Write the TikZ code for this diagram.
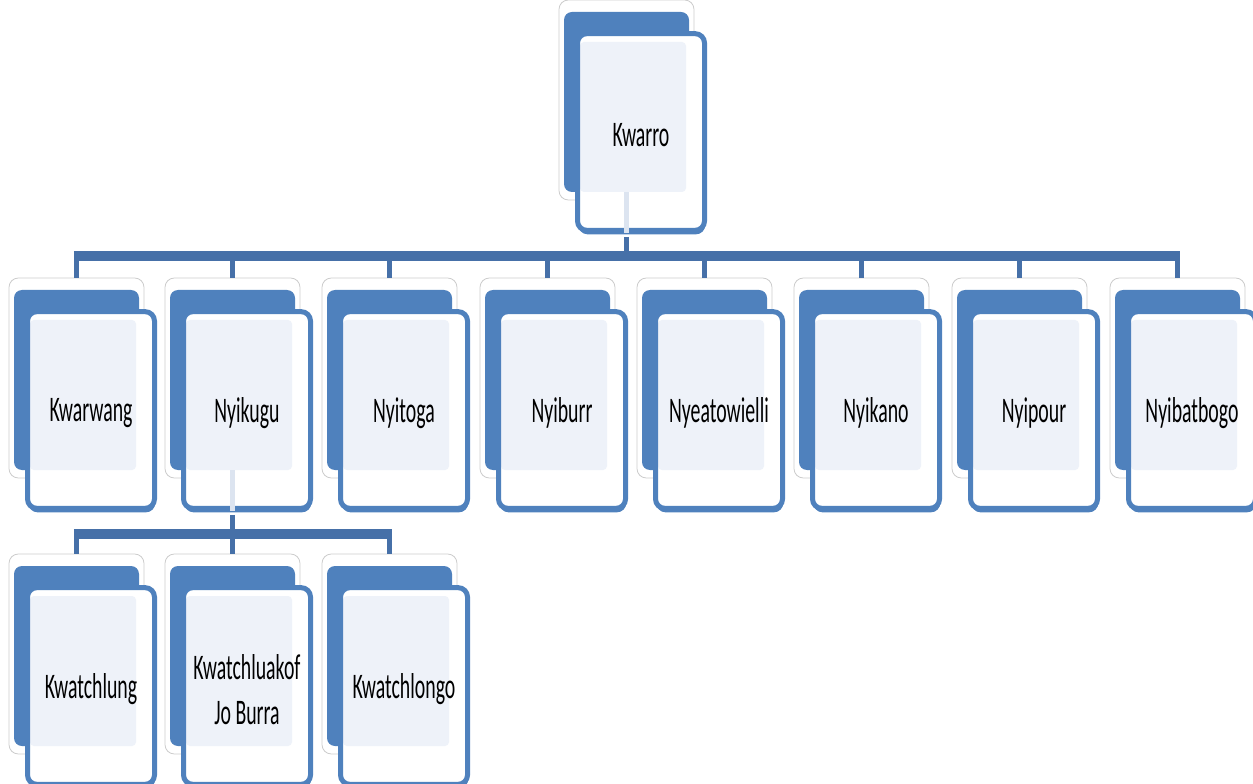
\documentclass[tikz,border=0pt]{standalone}
\usepackage{fontspec}
\usetikzlibrary{shadows}
\newfontfamily\lblfont[FakeStretch=0.55]{Carlito}
\definecolor{boxblue}{HTML}{4F81BD}
\definecolor{connblue}{HTML}{4670A8}
\definecolor{lightfill}{HTML}{EEF2F9}
\definecolor{faintline}{HTML}{DCE4F0}
\tikzset{
  outl/.style={draw=black!20, line width=0.6pt, fill=white, rounded corners=7pt,
    minimum width=101.25pt, minimum height=150pt, inner sep=0pt},
  backb/.style={fill=boxblue, rounded corners=6pt,
    minimum width=93.75pt, minimum height=135pt, inner sep=0pt},
  frontb/.style={draw=boxblue, line width=3.75pt, fill=white, rounded corners=7pt,
    minimum width=95.25pt, minimum height=147.5pt, inner sep=0pt,
    general shadow={shadow xshift=0.6pt, shadow yshift=-3pt, fill=boxblue, opacity=1},
    path picture={\fill[lightfill, rounded corners=3pt]
      ([shift={(-61,-90)}]path picture bounding box.center) rectangle
      ([shift={(45,60)}]path picture bounding box.center);}},
  lbl/.style={align=center, inner sep=0pt,
    font=\lblfont\fontsize{27}{34}\selectfont, text=black},
  bus/.style={draw=connblue, line width=7.5pt},
  stub/.style={draw=connblue, line width=4pt},
  faint/.style={draw=faintline, line width=4pt}
}
\newcommand\orgunit[4]{%
  \node[outl] (#1-o) at ({#2-0.5},{#3+88}) {};
  \node[backb] (#1-b) at ({#2-0.5},{#3+90}) {};
  \node[frontb] (#1) at ({#2+14},{#3+120}) {};
  \node[lbl] (#1-t) at ([yshift=-2.5pt]#1.center) {#4};
}
\begin{document}
\begin{tikzpicture}[x=0.75pt,y=-0.75pt]
\useasboundingbox (0,0) rectangle (1253,784);
\clip (0,0) rectangle (1253,784);
\coordinate (bus1) at (627,256);
\coordinate (bus2) at (233,534);
\orgunit{kwarro}{627}{12}{Kwarro}
\draw[faint] (kwarro-b.south) -- (kwarro-b.south |- kwarro.south);
\draw[stub] ([yshift=-3pt]kwarro-b.south |- kwarro.south) -- (kwarro-b.south |- bus1);
\orgunit{kwarwang}{77}{290}{Kwarwang}
\orgunit{nyikugu}{233}{290}{Nyikugu}
\orgunit{nyitoga}{390}{290}{Nyitoga}
\orgunit{nyiburr}{548}{290}{Nyiburr}
\orgunit{nyeatowielli}{705}{290}{Nyeatowielli}
\orgunit{nyikano}{862}{290}{Nyikano}
\orgunit{nyipour}{1020}{290}{Nyipour}
\orgunit{nyibatbogo}{1178}{290}{Nyibatbogo}
\orgunit{kwatchlung}{77}{566}{Kwatchlung}
\orgunit{kwatchluakof}{233}{566}{Kwatchluakof\\Jo Burra}
\orgunit{kwatchlongo}{390}{566}{Kwatchlongo}
% top bus
\draw[bus, line cap=butt] ([xshift=-2pt]kwarwang-o.north |- bus1) -- ([xshift=2pt]nyibatbogo-o.north |- bus1);
\foreach \n in {kwarwang,nyikugu,nyitoga,nyiburr,nyeatowielli,nyikano,nyipour,nyibatbogo}
  \draw[stub] (\n-o.north |- bus1) -- (\n-o.north);
% second bus
\draw[faint] (nyikugu-b.south) -- (nyikugu-b.south |- nyikugu.south);
\draw[stub] ([yshift=-3pt]nyikugu-b.south |- nyikugu.south) -- (nyikugu-b.south |- bus2);
\draw[bus, line cap=butt] ([xshift=-2pt]kwatchlung-o.north |- bus2) -- ([xshift=2pt]kwatchlongo-o.north |- bus2);
\foreach \n in {kwatchlung,kwatchluakof,kwatchlongo}
  \draw[stub] (\n-o.north |- bus2) -- (\n-o.north);
\end{tikzpicture}
\end{document}
